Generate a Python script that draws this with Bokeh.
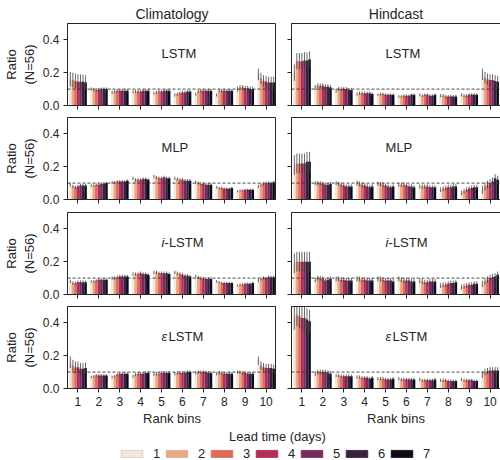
import numpy as np
from bokeh.plotting import figure
from bokeh.layouts import column, row
from bokeh.models import (ColumnDataSource, Span, Label, FixedTicker, Range1d,
                          Legend, LegendItem, PrintfTickFormatter)
from bokeh.transform import dodge
from bokeh.embed import file_html
from bokeh.resources import INLINE

# ---------------- data ----------------
bins = [1, 2, 3, 4, 5, 6, 7, 8, 9, 10]
lead_days = ["1", "2", "3", "4", "5", "6", "7"]
colors = ["#f4e7de", "#e8a88a", "#dc6c58", "#b52c55", "#78295d", "#3a2040", "#0c0a17"]
col_titles = ["Climatology", "Hindcast"]
model_names = [("", "LSTM"), ("", "MLP"), ("i", "-LSTM"), ("\u03b5", "LSTM")]
y_ticks = [0.0, 0.2, 0.4]
reference_ratio = 0.1

# rows = rank bins 1..10, columns = lead time 1..7
clim_lstm = [
    [0.160, 0.155, 0.150, 0.145, 0.145, 0.145, 0.140],
    [0.100, 0.095, 0.095, 0.095, 0.100, 0.100, 0.100],
    [0.080, 0.085, 0.090, 0.090, 0.090, 0.090, 0.090],
    [0.085, 0.085, 0.085, 0.085, 0.090, 0.090, 0.090],
    [0.075, 0.080, 0.085, 0.085, 0.090, 0.090, 0.090],
    [0.065, 0.070, 0.075, 0.080, 0.080, 0.085, 0.085],
    [0.070, 0.085, 0.090, 0.090, 0.090, 0.090, 0.090],
    [0.065, 0.090, 0.090, 0.090, 0.090, 0.090, 0.090],
    [0.100, 0.110, 0.110, 0.105, 0.105, 0.100, 0.100],
    [0.190, 0.165, 0.150, 0.145, 0.140, 0.140, 0.140],
]
clim_lstm_err = [0.045, 0.010, 0.010, 0.010, 0.010, 0.010, 0.010, 0.010, 0.015, 0.035]

hind_lstm = [
    [0.200, 0.270, 0.270, 0.270, 0.275, 0.275, 0.280],
    [0.110, 0.120, 0.120, 0.120, 0.115, 0.115, 0.110],
    [0.090, 0.100, 0.100, 0.100, 0.100, 0.095, 0.095],
    [0.070, 0.075, 0.075, 0.075, 0.075, 0.075, 0.070],
    [0.065, 0.070, 0.070, 0.065, 0.065, 0.065, 0.065],
    [0.055, 0.055, 0.060, 0.060, 0.060, 0.065, 0.065],
    [0.065, 0.060, 0.065, 0.065, 0.060, 0.060, 0.065],
    [0.060, 0.060, 0.055, 0.055, 0.055, 0.055, 0.055],
    [0.065, 0.060, 0.060, 0.065, 0.065, 0.065, 0.065],
    [0.190, 0.170, 0.160, 0.155, 0.155, 0.150, 0.145],
]
hind_lstm_err = [0.050, 0.015, 0.012, 0.010, 0.008, 0.008, 0.008, 0.010, 0.010, 0.035]

clim_mlp = [
    [0.090, 0.080, 0.075, 0.080, 0.085, 0.085, 0.085],
    [0.085, 0.085, 0.090, 0.090, 0.095, 0.095, 0.100],
    [0.105, 0.105, 0.110, 0.110, 0.110, 0.110, 0.115],
    [0.130, 0.120, 0.120, 0.120, 0.125, 0.125, 0.120],
    [0.140, 0.135, 0.130, 0.130, 0.135, 0.130, 0.130],
    [0.130, 0.125, 0.120, 0.120, 0.115, 0.115, 0.115],
    [0.105, 0.100, 0.095, 0.095, 0.090, 0.090, 0.090],
    [0.075, 0.070, 0.070, 0.065, 0.065, 0.065, 0.070],
    [0.050, 0.055, 0.055, 0.060, 0.060, 0.060, 0.060],
    [0.080, 0.090, 0.095, 0.100, 0.100, 0.100, 0.105],
]
clim_mlp_err = [0.010, 0.008, 0.008, 0.010, 0.010, 0.010, 0.010, 0.008, 0.006, 0.010]

hind_mlp = [
    [0.210, 0.220, 0.220, 0.220, 0.220, 0.230, 0.230],
    [0.100, 0.100, 0.100, 0.095, 0.090, 0.090, 0.095],
    [0.100, 0.095, 0.090, 0.085, 0.080, 0.080, 0.080],
    [0.100, 0.095, 0.090, 0.085, 0.080, 0.075, 0.080],
    [0.095, 0.095, 0.090, 0.085, 0.080, 0.075, 0.080],
    [0.090, 0.090, 0.090, 0.085, 0.080, 0.080, 0.075],
    [0.080, 0.080, 0.080, 0.080, 0.075, 0.075, 0.075],
    [0.060, 0.065, 0.070, 0.075, 0.075, 0.080, 0.080],
    [0.040, 0.050, 0.060, 0.065, 0.070, 0.075, 0.075],
    [0.060, 0.080, 0.090, 0.100, 0.110, 0.130, 0.120],
]
hind_mlp_err = [0.060, 0.012, 0.012, 0.015, 0.012, 0.012, 0.012, 0.015, 0.015, 0.025]

clim_ilstm = [
    [0.080, 0.070, 0.070, 0.075, 0.075, 0.075, 0.075],
    [0.080, 0.080, 0.085, 0.090, 0.090, 0.090, 0.090],
    [0.100, 0.100, 0.105, 0.110, 0.110, 0.110, 0.110],
    [0.125, 0.125, 0.125, 0.130, 0.125, 0.125, 0.120],
    [0.135, 0.135, 0.130, 0.130, 0.130, 0.130, 0.125],
    [0.135, 0.130, 0.125, 0.120, 0.115, 0.115, 0.110],
    [0.110, 0.105, 0.100, 0.095, 0.095, 0.095, 0.095],
    [0.080, 0.075, 0.070, 0.070, 0.070, 0.070, 0.070],
    [0.055, 0.060, 0.060, 0.065, 0.065, 0.065, 0.070],
    [0.085, 0.095, 0.100, 0.100, 0.105, 0.105, 0.105],
]
clim_ilstm_err = [0.010, 0.008, 0.010, 0.010, 0.010, 0.010, 0.010, 0.008, 0.008, 0.010]

hind_ilstm = [
    [0.190, 0.200, 0.200, 0.200, 0.200, 0.200, 0.200],
    [0.090, 0.100, 0.100, 0.095, 0.085, 0.090, 0.095],
    [0.095, 0.095, 0.090, 0.090, 0.085, 0.085, 0.085],
    [0.095, 0.095, 0.090, 0.090, 0.085, 0.085, 0.085],
    [0.095, 0.095, 0.090, 0.085, 0.085, 0.085, 0.080],
    [0.095, 0.090, 0.085, 0.085, 0.085, 0.080, 0.080],
    [0.085, 0.080, 0.075, 0.075, 0.080, 0.080, 0.080],
    [0.055, 0.060, 0.060, 0.065, 0.070, 0.070, 0.075],
    [0.045, 0.050, 0.055, 0.060, 0.060, 0.065, 0.065],
    [0.065, 0.080, 0.090, 0.100, 0.105, 0.110, 0.120],
]
hind_ilstm_err = [0.060, 0.015, 0.015, 0.015, 0.015, 0.015, 0.015, 0.015, 0.015, 0.020]

clim_elstm = [
    [0.160, 0.140, 0.130, 0.130, 0.120, 0.120, 0.125],
    [0.070, 0.075, 0.080, 0.080, 0.080, 0.080, 0.080],
    [0.070, 0.075, 0.085, 0.090, 0.090, 0.090, 0.090],
    [0.075, 0.085, 0.090, 0.090, 0.090, 0.095, 0.095],
    [0.085, 0.090, 0.090, 0.095, 0.095, 0.095, 0.095],
    [0.090, 0.095, 0.095, 0.095, 0.095, 0.100, 0.100],
    [0.095, 0.100, 0.100, 0.100, 0.100, 0.095, 0.095],
    [0.090, 0.095, 0.095, 0.090, 0.090, 0.090, 0.090],
    [0.100, 0.100, 0.095, 0.095, 0.090, 0.090, 0.090],
    [0.170, 0.140, 0.130, 0.125, 0.125, 0.125, 0.120],
]
clim_elstm_err = [0.035, 0.008, 0.008, 0.010, 0.010, 0.010, 0.010, 0.010, 0.010, 0.025]

hind_elstm = [
    [0.430, 0.450, 0.440, 0.430, 0.430, 0.420, 0.410],
    [0.090, 0.100, 0.100, 0.100, 0.100, 0.095, 0.090],
    [0.080, 0.080, 0.075, 0.075, 0.075, 0.075, 0.075],
    [0.070, 0.070, 0.065, 0.065, 0.065, 0.060, 0.065],
    [0.060, 0.060, 0.060, 0.055, 0.055, 0.055, 0.060],
    [0.060, 0.055, 0.055, 0.055, 0.055, 0.055, 0.055],
    [0.055, 0.050, 0.050, 0.050, 0.050, 0.050, 0.055],
    [0.050, 0.050, 0.050, 0.045, 0.045, 0.045, 0.045],
    [0.055, 0.050, 0.050, 0.050, 0.050, 0.045, 0.045],
    [0.085, 0.100, 0.105, 0.110, 0.110, 0.110, 0.110],
]
hind_elstm_err = [0.070, 0.015, 0.010, 0.010, 0.010, 0.010, 0.010, 0.010, 0.010, 0.020]

panels = [
    [(clim_lstm, clim_lstm_err), (hind_lstm, hind_lstm_err)],
    [(clim_mlp, clim_mlp_err), (hind_mlp, hind_mlp_err)],
    [(clim_ilstm, clim_ilstm_err), (hind_ilstm, hind_ilstm_err)],
    [(clim_elstm, clim_elstm_err), (hind_elstm, hind_elstm_err)],
]

# ---------------- style ----------------
FONT = "Liberation Sans"
INK = "#262626"
FRAME_W, FRAME_H = 209, 82
group_w = 0.85
bar_w = group_w / len(lead_days)


def style_axis(ax, labelled, ticks):
    ax.axis_line_color = INK
    ax.major_label_text_font = FONT
    ax.major_label_text_font_size = "12px"
    ax.major_label_text_color = INK
    ax.major_label_standoff = 4
    ax.axis_label_text_font = FONT
    ax.axis_label_text_font_size = "13px"
    ax.axis_label_text_font_style = "normal"
    ax.axis_label_text_color = INK
    if labelled:
        ax.ticker = FixedTicker(ticks=ticks)
        ax.major_tick_line_color = INK
        ax.major_tick_out = 4
        ax.major_tick_in = 0
        ax.minor_tick_line_color = None
    else:
        # tick marks only (minor ticks carry no labels)
        ax.ticker = FixedTicker(ticks=[], minor_ticks=ticks)
        ax.major_tick_line_color = None
        ax.minor_tick_line_color = INK
        ax.minor_tick_out = 4
        ax.minor_tick_in = 0


def make_panel(vals, errs, ci, ri):
    first_row = ri == 0
    last_row = ri == len(panels) - 1
    left = ci == 0
    p = figure(frame_width=FRAME_W, frame_height=FRAME_H,
               x_range=Range1d(0.5, 10.5), y_range=Range1d(0, 0.5),
               toolbar_location=None, output_backend="svg",
               min_border_left=62 if left else 15,
               min_border_right=0 if left else 5,
               min_border_top=23 if first_row else 0,
               min_border_bottom=36 if last_row else (13 if ri == 1 else 12))
    v = np.array(vals)
    e = np.array(errs)
    for j, c in enumerate(colors):
        off = (j - (len(lead_days) - 1) / 2) * bar_w
        src = ColumnDataSource(dict(x=bins, top=v[:, j], lo=v[:, j] - e, hi=v[:, j] + e))
        p.vbar(x=dodge("x", off, range=p.x_range), top="top", width=bar_w,
               source=src, fill_color=c, line_color=None)
        p.segment(x0=dodge("x", off, range=p.x_range), y0="lo",
                  x1=dodge("x", off, range=p.x_range), y1="hi",
                  source=src, line_color="#383838", line_width=0.9, line_alpha=0.85)
    p.add_layout(Span(location=reference_ratio, dimension="width", line_color="#333333",
                      line_dash="3 2", line_width=0.9))
    pre, main = model_names[ri]
    if pre:
        p.add_layout(Label(x=5.0, y=0.32, text=pre, text_align="left", text_baseline="middle",
                           text_font=FONT, text_font_size="13px", text_font_style="italic",
                           text_color=INK))
        p.add_layout(Label(x=5.0, y=0.32, x_offset=3 if pre == "i" else 7, text=main,
                           text_align="left", text_baseline="middle",
                           text_font=FONT, text_font_size="13px", text_color=INK))
    else:
        p.add_layout(Label(x=5.0, y=0.32, text=main, text_align="left", text_baseline="middle",
                           text_font=FONT, text_font_size="13px", text_color=INK))

    p.xgrid.visible = False
    p.ygrid.visible = False
    p.outline_line_color = INK
    p.outline_line_width = 1
    style_axis(p.xaxis[0], last_row, bins)
    style_axis(p.yaxis[0], left, y_ticks)
    if left:
        p.yaxis.formatter = PrintfTickFormatter(format="%.1f")
        p.yaxis.axis_label = "Ratio\n(N=56)"
        p.yaxis.axis_label_standoff = 3
    if last_row:
        p.xaxis.axis_label = "Rank bins"
        p.xaxis.axis_label_standoff = 2
    if first_row:
        p.title.text = col_titles[ci]
        p.title.align = "center"
        p.title.text_font = FONT
        p.title.text_font_size = "14px"
        p.title.text_font_style = "normal"
        p.title.text_color = INK
        p.title.standoff = 4
    return p


rows = []
for ri, pr in enumerate(panels):
    figs = [make_panel(vals, errs, ci, ri) for ci, (vals, errs) in enumerate(pr)]
    rows.append(row(*figs, spacing=0))

# legend strip
leg = figure(width=500, height=36, x_range=Range1d(0, 500), y_range=Range1d(0, 36),
             toolbar_location=None, output_backend="svg", min_border=0,
             x_axis_location=None, y_axis_location=None)
leg.xgrid.visible = False
leg.ygrid.visible = False
leg.outline_line_color = None
items = []
for d, c in zip(lead_days, colors):
    # placeholder glyph outside the visible range, used only for the legend swatch
    r = leg.vbar(x=[-1000], top=[0], bottom=[0], width=1, fill_color=c,
                 line_color="#d6ccc5" if d == "1" else c, line_width=0.8)
    items.append(LegendItem(label=d, renderers=[r]))
legend = Legend(items=items, orientation="horizontal", location=(118, 3),
                glyph_width=27, glyph_height=9, label_standoff=8, label_width=8,
                label_height=12, spacing=2, padding=0, margin=0,
                border_line_color=None, background_fill_alpha=0,
                label_text_font=FONT, label_text_font_size="13px", label_text_color=INK)
leg.add_layout(legend)
leg.add_layout(Label(x=277, y=28, text="Lead time (days)", text_align="center",
                     text_baseline="middle", text_font=FONT, text_font_size="13px",
                     text_color=INK))

layout = column(*rows, leg, spacing=0)
open("out.html", "w").write(file_html(layout, INLINE))
